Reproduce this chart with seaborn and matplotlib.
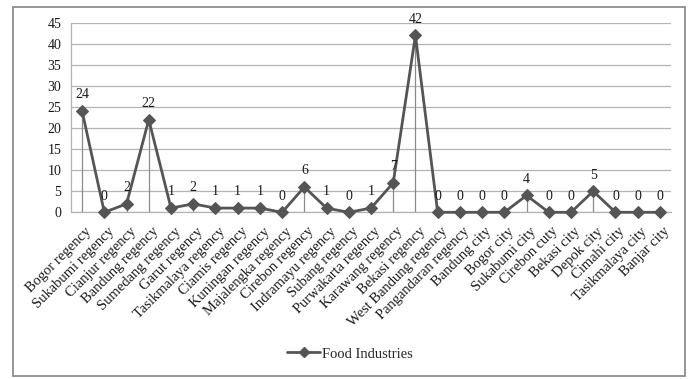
import matplotlib
matplotlib.use("Agg")
import matplotlib.pyplot as plt
import matplotlib.transforms as mtransforms
import seaborn as sns
import pandas as pd
from matplotlib.patches import Rectangle
from matplotlib.lines import Line2D

regions = [
    "Bogor regency", "Sukabumi regency", "Cianjur regency", "Bandung regency",
    "Sumedang regency", "Garut regency", "Tasikmalaya regency", "Ciamis regency",
    "Kuningan regency", "Majalengka regency", "Cirebon regency", "Indramayu regency",
    "Subang regency", "Purwakarta regency", "Karawang regency", "Bekasi regency",
    "West Bandung regency", "Pangandaran regency", "Bandung city", "Bogor city",
    "Sukabumi city", "Cirebon cuty", "Bekasi city", "Depok city", "Cimahi city",
    "Tasikmalaya city", "Banjar city",
]
food_industries = [24, 0, 2, 22, 1, 2, 1, 1, 1, 0, 6, 1, 0, 1, 7, 42,
                   0, 0, 0, 0, 4, 0, 0, 5, 0, 0, 0]
y_ticks = [0, 5, 10, 15, 20, 25, 30, 35, 40, 45]
series_name = "Food Industries"

sns.set_theme(style="white")
plt.rcParams["font.family"] = ["Liberation Serif", "DejaVu Serif"]

df = pd.DataFrame({"region": regions, "value": food_industries})
df["pos"] = range(len(df))

W, H = 688, 379
fig = plt.figure(figsize=(W / 100, H / 100), dpi=100)
ax = fig.add_axes([71 / W, 1 - 212.3 / H, 600 / W, (212.3 - 22.7) / H])

line_col = "#555555"
grid_col = "#b3b3b3"
text_col = "#1a1a1a"

for t in y_ticks:
    ax.axhline(t, color=grid_col, lw=0.9, zorder=0)

# drop lines from each point down to the category axis
ax.vlines(df["pos"], 0, df["value"], color="#8a8a8a", lw=0.9, zorder=1)

sns.lineplot(data=df, x="pos", y="value", ax=ax, color=line_col, lw=2.0,
             marker="D", markersize=6.5, markeredgecolor=line_col,
             legend=False, zorder=3, clip_on=False)

for p, v in zip(df["pos"], df["value"]):
    ax.annotate(str(v), (p, v), xytext=(0, 7), textcoords="offset points",
                ha="center", va="bottom", fontsize=10, color=text_col)

ax.set_xlim(-0.5, len(regions) - 0.5)
ax.set_ylim(0, 45)
ax.set_yticks(y_ticks)
ax.set_yticklabels([str(t) for t in y_ticks], fontsize=10, color=text_col)
ax.set_xticks(df["pos"])
ax.set_xticklabels(regions, rotation=45, ha="right", va="top",
                   rotation_mode="anchor", fontsize=10.5, color=text_col)
ax.tick_params(axis="y", length=4, color=grid_col, pad=3)
ax.tick_params(axis="x", length=0, pad=9)
shift = mtransforms.ScaledTranslation(3 / 100, 0, fig.dpi_scale_trans)
for lab in ax.get_xticklabels():
    lab.set_transform(lab.get_transform() + shift)
ax.set_xlabel("")
ax.set_ylabel("")
for s in ["top", "right"]:
    ax.spines[s].set_visible(False)
for s in ["left", "bottom"]:
    ax.spines[s].set_color(grid_col)
    ax.spines[s].set_linewidth(0.9)

handle = Line2D([], [], color=line_col, lw=2.0, marker="D", markersize=5)
fig.legend([handle], [series_name], loc="center",
           bbox_to_anchor=(350 / W, 1 - 354 / H), frameon=False,
           fontsize=10.5, handlelength=2.2, handletextpad=0.15)

fig.patches.append(Rectangle((13 / W, 1 - 376 / H), (685 - 13) / W, (376 - 7) / H,
                             transform=fig.transFigure, fill=False,
                             edgecolor="#8c8c8c", lw=1.3))

fig.savefig("out.png", dpi=100)
